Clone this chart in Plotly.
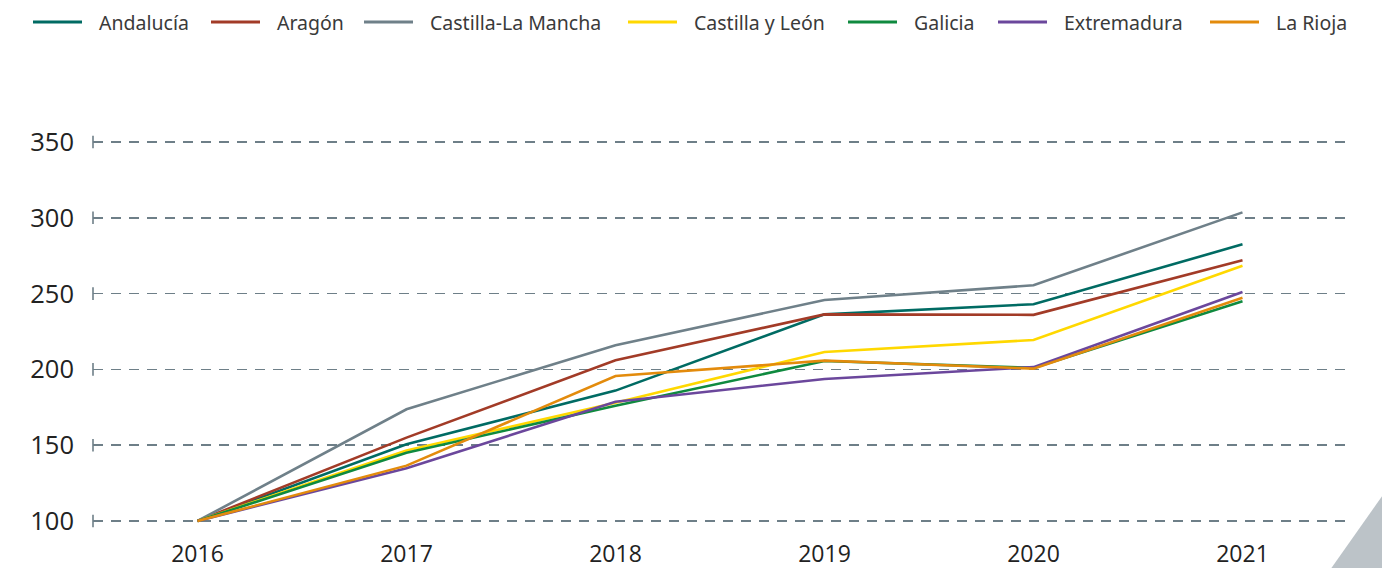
import plotly.graph_objects as go

years = ["2016", "2017", "2018", "2019", "2020", "2021"]

andalucia = [100, 150.6, 186, 236.3, 243, 282.5]
aragon = [100, 155, 206, 236.3, 236, 272]
castilla_la_mancha = [100, 173.7, 216, 245.8, 255.5, 303.6]
castilla_y_leon = [100, 146.5, 178, 211.5, 219.4, 268.4]
galicia = [100, 145, 176, 205.5, 201, 245]
extremadura = [100, 134.8, 178.7, 193.7, 201.5, 251]
la_rioja = [100, 136.5, 195.6, 205.8, 200.5, 247.3]

series_names = ["Andalucía", "Aragón", "Castilla-La Mancha", "Castilla y León",
                "Galicia", "Extremadura", "La Rioja"]
series_values = [andalucia, aragon, castilla_la_mancha, castilla_y_leon,
                 galicia, extremadura, la_rioja]
series_colors = ["#006b63", "#a23b27", "#6f8089", "#ffd800",
                 "#0f8a3f", "#6b479c", "#e38b0c"]

y_ticks = [100, 150, 200, 250, 300, 350]

GRID = "#6e7f88"

# layout geometry (pixels)
W, H = 1382, 568
ML, MR, MT, MB = 93, 35, 139, 44
PW, PH = W - ML - MR, H - MT - MB
legend_px = [33, 211, 364, 628, 848, 998, 1210]   # legend entry start (px)
LEG_Y = 22
LEG_LINE = 49
LEG_TEXT_OFF = 64


def px_x(p):
    return (p - ML) / PW


def px_y(p):
    return (H - MB - p) / PH


fig = go.Figure()

# tick "⊢" marks at left end of gridlines
fig.add_trace(go.Scatter(
    x=[-0.5] * len(y_ticks), y=y_ticks, mode="markers",
    marker=dict(symbol="line-ns", size=9, line=dict(width=1.6, color=GRID)),
    showlegend=False, hoverinfo="skip", cliponaxis=False,
))

for name, vals, col in zip(series_names, series_values, series_colors):
    fig.add_trace(go.Scatter(
        x=list(range(len(years))), y=vals, name=name, mode="lines",
        line=dict(color=col, width=2.6), showlegend=False,
    ))

shapes = []
annotations = []
for name, col, p in zip(series_names, series_colors, legend_px):
    shapes.append(dict(
        type="line", xref="paper", yref="paper",
        x0=px_x(p), x1=px_x(p + LEG_LINE), y0=px_y(LEG_Y), y1=px_y(LEG_Y),
        line=dict(color=col, width=3),
    ))
    annotations.append(dict(
        xref="paper", yref="paper", x=px_x(p + LEG_TEXT_OFF), y=px_y(LEG_Y),
        xanchor="left", yanchor="middle", text=name, showarrow=False,
        font=dict(family="Noto Sans", size=19.5, color="#3a3a3a"),
    ))

# decorative grey corner
shapes.append(dict(
    type="path", xref="paper", yref="paper",
    path=f"M {px_x(1330)},{px_y(570)} L {px_x(1385)},{px_y(492)} "
         f"L {px_x(1385)},{px_y(570)} Z",
    fillcolor="#bcc3c8", line=dict(width=0), layer="above",
))

fig.update_layout(
    width=W, height=H,
    margin=dict(l=ML, r=MR, t=MT, b=MB, autoexpand=False),
    paper_bgcolor="white", plot_bgcolor="white",
    font=dict(family="Open Sans", color="#222222"),
    showlegend=False,
    hovermode=False,
    xaxis=dict(
        range=[-0.5, 5.5], tickmode="array",
        tickvals=list(range(len(years))), ticktext=years,
        showgrid=False, zeroline=False, showline=False,
        ticks="", tickfont=dict(size=23, color="#222222"),
        ticklabelstandoff=14,
    ),
    yaxis=dict(
        range=[98, 352], tickmode="array", tickvals=y_ticks,
        showgrid=True, gridcolor=GRID, gridwidth=1.4, griddash="10px,8px",
        zeroline=False, showline=False, ticks="",
        tickfont=dict(size=25.5, color="#222222"),
        ticklabelstandoff=18,
    ),
    shapes=shapes,
    annotations=annotations,
)

fig.write_html(
    "out.html",
    config={"displayModeBar": False, "staticPlot": True},
    post_script="document.body.style.margin='0px';"
                "document.body.style.overflow='hidden';",
)
